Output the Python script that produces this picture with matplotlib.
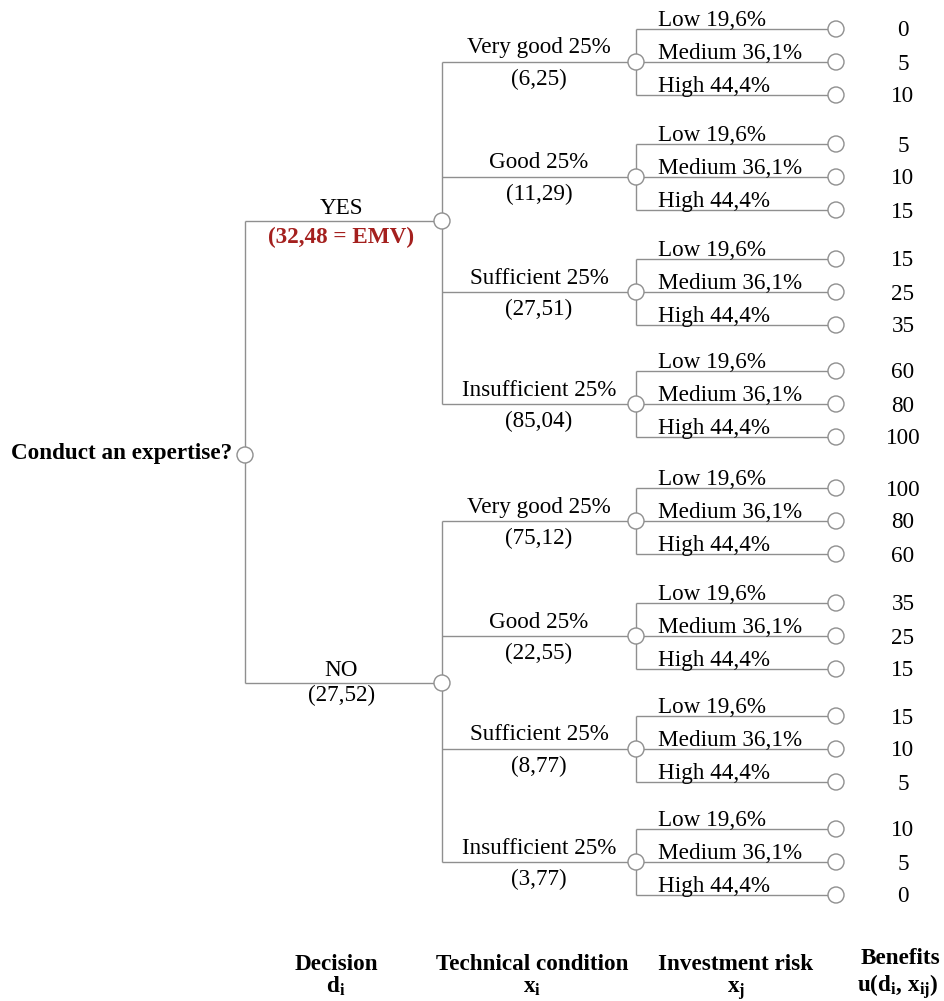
import matplotlib.pyplot as plt
from matplotlib.patches import Circle

plt.rcParams['font.family'] = ['Liberation Serif', 'DejaVu Serif']
plt.rcParams['mathtext.fontset'] = 'custom'
plt.rcParams['mathtext.rm'] = 'Liberation Serif'
plt.rcParams['mathtext.bf'] = 'Liberation Serif:bold'
plt.rcParams['mathtext.it'] = 'Liberation Serif:italic'

# dane drzewa decyzyjnego
root_label = 'Conduct an expertise?'
decisions = ['YES', 'NO']
decision_values = ['(32,48 = EMV)', '(27,52)']
conditions = ['Very good 25%', 'Good 25%', 'Sufficient 25%', 'Insufficient 25%']
condition_values_yes = ['(6,25)', '(11,29)', '(27,51)', '(85,04)']
condition_values_no = ['(75,12)', '(22,55)', '(8,77)', '(3,77)']
risks = ['Low 19,6%', 'Medium 36,1%', 'High 44,4%']
benefits_yes = [[0, 5, 10], [5, 10, 15], [15, 25, 35], [60, 80, 100]]
benefits_no = [[100, 80, 60], [35, 25, 15], [15, 10, 5], [10, 5, 0]]
column_titles = ['Decision', 'Technical condition', 'Investment risk']
column_symbols = [r'$\mathbf{d}_\mathbf{i}$', r'$\mathbf{x}_\mathbf{i}$', r'$\mathbf{x}_\mathbf{j}$']

W, H = 944, 1001
fig = plt.figure(figsize=(W / 100, H / 100), dpi=100)
ax = fig.add_axes([0, 0, 1, 1])
ax.set_xlim(0, W)
ax.set_ylim(H, 0)
ax.axis('off')

LC = '#8f8f8f'
LW = 1.0
R = 8
FS = 16.7

def line(xs, ys):
    ax.plot(xs, ys, color=LC, lw=LW, zorder=1, solid_capstyle='butt')

def node(x, y):
    ax.add_patch(Circle((x, y), R, facecolor='white', edgecolor=LC, lw=LW, zorder=3))

# położenia
x_root, y_root = 245, 455
x_dec = 442
x_cond = 636
x_end = 836
x_val = 903
dec_y = [221, 683]
group_y = [[62, 177, 292, 404], [521, 636, 749, 862]]
dy = 33

ax.text(x_root - 13, y_root - 2, root_label, ha='right', va='center',
        fontsize=FS, fontweight='bold')
line([x_root, x_root], [dec_y[0], dec_y[1]])

cond_vals = [condition_values_yes, condition_values_no]
benefits = [benefits_yes, benefits_no]
for d in range(2):
    yd = dec_y[d]
    line([x_root, x_dec], [yd, yd])
    ax.text((x_root + x_dec) / 2 - 2, yd - 13, decisions[d], ha='center', va='center', fontsize=FS)
    if d == 0:
        ax.text((x_root + x_dec) / 2 - 2, yd + 16, decision_values[d], ha='center', va='center',
                fontsize=FS, fontweight='bold', color='#a4201e')
    else:
        ax.text((x_root + x_dec) / 2 - 2, yd + 12, decision_values[d], ha='center', va='center',
                fontsize=FS)
    gy = group_y[d]
    line([x_dec, x_dec], [gy[0], gy[-1]])
    node(x_dec, yd)
    for g in range(4):
        yc = gy[g]
        line([x_dec, x_cond], [yc, yc])
        ax.text(539, yc - 14, conditions[g], ha='center', va='center', fontsize=FS)
        ax.text(539, yc + 17, cond_vals[d][g], ha='center', va='center', fontsize=FS)
        line([x_cond, x_cond], [yc - dy, yc + dy])
        for k in range(3):
            yr = yc + (k - 1) * dy
            line([x_cond, x_end], [yr, yr])
            ax.text(658, yr - 3, risks[k], ha='left', va='baseline', fontsize=FS)
            node(x_end, yr)
            ax.text(x_val, yr + 2, str(benefits[d][g][k]), ha='center', va='center', fontsize=FS)
        node(x_cond, yc)

node(x_root, y_root)

# podpisy kolumn
col_x = [336, 532, 736]
for cx, t, s in zip(col_x, column_titles, column_symbols):
    ax.text(cx, 964, t, ha='center', va='center', fontsize=FS, fontweight='bold')
    ax.text(cx, 993, s, ha='center', va='baseline', fontsize=FS)
ax.text(940, 958, 'Benefits', ha='right', va='center', fontsize=FS, fontweight='bold')
ax.text(939, 992, r'$\mathbf{u(d}_\mathbf{i}\mathbf{,\,x}_\mathbf{ij}\mathbf{)}$',
        ha='right', va='baseline', fontsize=FS)

fig.savefig('out.png', dpi=100)
